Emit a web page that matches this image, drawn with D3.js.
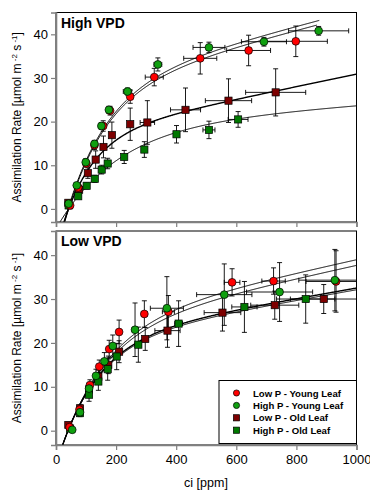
<!DOCTYPE html>
<html>
<head>
<meta charset="utf-8">
<script src="https://cdn.jsdelivr.net/npm/d3@7"></script>
<style>
  body { margin: 0; background: #fff; }
  svg { display: block; font-family: "Liberation Sans", Arial, sans-serif; }
</style>
</head>
<body>
<svg id="chart" width="370" height="492"></svg>
<script>
// rows: [ci, assimilation, ci error, assimilation error]
const highLowPYoung = [
  [47, 0.8, 3, 0.5], [74, 4.9, 4, 0.8], [101, 10.4, 4, 0.8], [128, 14.6, 5, 1.0],
  [157, 19.0, 6, 1.2], [180, 22.5, 6, 1.0], [247, 25.7, 8, 1.5], [327, 30.2, 30, 2.0],
  [480, 34.5, 55, 3.6], [641, 36.3, 73, 3.5], [798, 38.4, 105, 3.5]
];
const highHighPYoung = [
  [42, 1.2, 2, 0.5], [69, 5.4, 3, 0.6], [99, 10.7, 4, 0.8], [128, 14.9, 4, 0.8],
  [151, 19.0, 5, 0.8], [176, 22.7, 5, 0.8], [238, 26.9, 14, 0.8], [339, 33.1, 13, 1.5],
  [509, 37.0, 53, 1.2], [692, 38.3, 75, 1.0], [874, 40.8, 100, 1.0]
];
const highLowPOld = [
  [41, 1.4, 2, 0.6], [77, 4.4, 3, 1.0], [106, 8.2, 4, 1.2], [132, 11.3, 5, 2.0],
  [158, 14.2, 6, 2.5], [186, 16.9, 6, 3.0], [247, 19.4, 8, 3.7], [304, 19.8, 24, 5.0],
  [431, 22.7, 50, 5.0], [574, 24.8, 77, 5.0], [731, 26.7, 100, 5.4]
];
const highHighPOld = [
  [42, 0.8, 2, 0.5], [74, 2.9, 3, 0.6], [102, 5.3, 4, 0.7], [129, 6.9, 4, 0.8],
  [152, 9.0, 5, 1.0], [172, 10.4, 5, 1.2], [227, 11.9, 6, 1.5], [294, 13.6, 8, 1.8],
  [401, 17.1, 10, 2.0], [509, 18.1, 20, 2.0], [606, 20.5, 33, 1.8]
];

const lowLowPYoung = [
  [45, 0.8, 2, 0.5], [78, 4.8, 3, 0.8], [113, 10.4, 4, 1.2], [144, 14.6, 5, 1.5],
  [177, 18.6, 6, 2.0], [210, 22.5, 8, 2.7], [294, 26.6, 10, 3.0], [374, 27.1, 20, 3.7],
  [586, 33.8, 26, 3.1], [724, 34.1, 39, 3.0], [932, 34.0, 100, 7.0]
];
const lowHighPYoung = [
  [54, 0.2, 3, 0.5], [80, 4.2, 3, 0.8], [110, 9.6, 4, 1.2], [133, 12.5, 5, 1.5],
  [161, 15.8, 6, 2.0], [189, 19.3, 7, 2.5], [263, 23.0, 10, 6.1], [369, 27.9, 55, 7.2],
  [560, 31.0, 92, 7.0], [744, 31.6, 110, 6.7], [928, 34.3, 120, 7.0]
];
const lowLowPOld = [
  [41, 1.3, 2, 0.6], [80, 5.1, 3, 0.8], [110, 9.4, 4, 1.2], [141, 12.3, 5, 1.5],
  [174, 15.0, 6, 2.0], [210, 18.0, 7, 2.5], [297, 20.9, 10, 2.6], [371, 22.8, 42, 3.8],
  [554, 26.9, 61, 4.2], [728, 28.6, 80, 3.2], [891, 30.0, 111, 3.3]
];
const lowHighPOld = [
  [47, 0.5, 2, 0.5], [80, 4.0, 3, 0.8], [110, 8.2, 4, 1.5], [141, 11.2, 5, 2.0],
  [172, 14.0, 6, 2.5], [202, 16.9, 7, 3.0], [274, 19.6, 10, 4.0], [408, 24.4, 13, 5.2],
  [627, 28.2, 42, 5.8], [831, 30.0, 97, 5.5]
];

// fitted curves: A = G*(1-exp(-k*(ci-c0))) + s*(ci-c0), drawn up to ciMax
// [G, k, s, c0, ciMax]
const fitHighLowPYoung = [27.3, 0.0075, 0.018, 42, 869];
const fitHighHighPYoung = [28.2, 0.0073, 0.018, 40, 877];
const fitHighLowPOld = [17.1, 0.0098, 0.0144, 42, 1000];
const fitHighHighPOld = [19.0, 0.0049, 0.005, 42, 1000];
const fitLowLowPYoung = [24.6, 0.00646, 0.015, 40, 1000];
const fitLowHighPYoung = [23.3, 0.0067, 0.015, 40, 1000];
const fitLowLowPOld = [21.0, 0.0076, 0.012, 40, 1000];
const fitLowHighPOld = [20.6, 0.0076, 0.012, 40, 1000];

const seriesNames = ["Low P - Young Leaf", "High P - Young Leaf", "Low P - Old Leaf", "High P - Old Leaf"];
const xTicks = [0, 200, 400, 600, 800, 1000];
const yTicks = [0, 10, 20, 30, 40];

const styles = [
  { shape: "circle", fill: "#ff0000" },
  { shape: "circle", fill: "#10a010" },
  { shape: "square", fill: "#7d0000" },
  { shape: "square", fill: "#007800" }
];

const svg = d3.select("#chart");

const x = d3.scaleLinear().domain([0, 1000]).range([56, 356.5]);

const panels = [
  {
    label: "High VPD",
    y: d3.scaleLinear().domain([-3, 45]).range([222, 12.5]),
    data: [highLowPYoung, highHighPYoung, highLowPOld, highHighPOld],
    fits: [fitHighLowPYoung, fitHighHighPYoung, fitHighLowPOld, fitHighHighPOld],
    xLabels: false
  },
  {
    label: "Low VPD",
    y: d3.scaleLinear().domain([-3.26, 45.5]).range([445, 231]),
    data: [lowLowPYoung, lowHighPYoung, lowLowPOld, lowHighPOld],
    fits: [fitLowLowPYoung, fitLowHighPYoung, fitLowLowPOld, fitLowHighPOld],
    xLabels: true
  }
];

const drawOrder = [2, 3, 0, 1];

function marker(sel, shape, fill, size) {
  if (shape === "circle") {
    sel.append("circle").attr("r", size / 2);
  } else {
    sel.append("rect").attr("x", -size / 2).attr("y", -size / 2)
      .attr("width", size).attr("height", size);
  }
  sel.select(":last-child").attr("fill", fill).attr("stroke", "#000").attr("stroke-width", 0.7);
}

panels.forEach((p, pi) => {
  const y = p.y;
  const [x0, x1] = x.range();
  const [yb, yt] = y.range();
  const g = svg.append("g");

  const clipId = "clip" + pi;
  svg.append("clipPath").attr("id", clipId)
    .append("rect").attr("x", x0).attr("y", yt).attr("width", x1 - x0).attr("height", yb - yt);

  // frame
  g.append("rect")
    .attr("x", x0).attr("y", yt).attr("width", x1 - x0).attr("height", yb - yt)
    .attr("fill", "none").attr("stroke", "#000").attr("stroke-width", 1);

  const plot = g.append("g").attr("clip-path", `url(#${clipId})`);

  // fit lines
  p.fits.forEach((f, i) => {
    const [G, k, s, c0, ciMax] = f;
    const pts = d3.range(0, ciMax + 0.1, 2).map(ci => [ci, G * (1 - Math.exp(-k * (ci - c0))) + s * (ci - c0)]);
    plot.append("path")
      .datum(pts)
      .attr("fill", "none")
      .attr("stroke", "#000")
      .attr("stroke-width", i === 2 ? 1.4 : 1)
      .attr("d", d3.line().x(d => x(d[0])).y(d => y(d[1])));
  });

  // error bars
  const cap = 2.5;
  drawOrder.forEach(si => {
    const eb = plot.append("g").attr("stroke", "#000").attr("stroke-width", 0.9);
    p.data[si].forEach(d => {
      const [ci, a, ce, ae] = d;
      eb.append("line").attr("x1", x(ci - ce)).attr("x2", x(ci + ce)).attr("y1", y(a)).attr("y2", y(a));
      eb.append("line").attr("x1", x(ci - ce)).attr("x2", x(ci - ce)).attr("y1", y(a) - cap).attr("y2", y(a) + cap);
      eb.append("line").attr("x1", x(ci + ce)).attr("x2", x(ci + ce)).attr("y1", y(a) - cap).attr("y2", y(a) + cap);
      eb.append("line").attr("x1", x(ci)).attr("x2", x(ci)).attr("y1", y(a - ae)).attr("y2", y(a + ae));
      eb.append("line").attr("x1", x(ci) - cap).attr("x2", x(ci) + cap).attr("y1", y(a - ae)).attr("y2", y(a - ae));
      eb.append("line").attr("x1", x(ci) - cap).attr("x2", x(ci) + cap).attr("y1", y(a + ae)).attr("y2", y(a + ae));
    });
  });

  // markers
  drawOrder.forEach(si => {
    const st = styles[si];
    p.data[si].forEach(d => {
      const m = plot.append("g").attr("transform", `translate(${x(d[0])},${y(d[1])})`);
      marker(m, st.shape, st.fill, st.shape === "circle" ? 7.8 : 7.2);
    });
  });

  // axes
  const yAxis = d3.axisLeft(y).tickValues(yTicks).tickSize(5).tickPadding(3).tickFormat(d3.format("d"));
  const ya = g.append("g").attr("transform", `translate(${x0},0)`).call(yAxis);
  const xAxis = d3.axisBottom(x).tickValues(xTicks).tickSize(5).tickPadding(5)
    .tickFormat(p.xLabels ? d3.format("d") : "");
  const xa = g.append("g").attr("transform", `translate(0,${yb})`).call(xAxis);
  [ya, xa].forEach(a => {
    a.select(".domain").attr("stroke", "#808080").attr("stroke-width", 1.6);
    a.selectAll(".tick line").attr("stroke", "#808080").attr("stroke-width", 1.2);
    a.selectAll("text").attr("font-size", 13).attr("fill", "#000")
      .attr("font-family", "Liberation Sans, Arial, sans-serif");
  });

  // panel label
  g.append("text")
    .attr("x", x0 + 5).attr("y", yt + 15)
    .attr("font-size", 14).attr("font-weight", "bold")
    .text(p.label);

  // y title
  const yt2 = g.append("text")
    .attr("transform", `translate(21,${(yb + yt) / 2}) rotate(-90)`)
    .attr("text-anchor", "middle")
    .attr("font-size", 12);
  yt2.append("tspan").text("Assimilation Rate [µmol m");
  yt2.append("tspan").attr("dy", -4).attr("font-size", 8).text(" -2");
  yt2.append("tspan").attr("dy", 4).text(" s");
  yt2.append("tspan").attr("dy", -4).attr("font-size", 8).text(" -1");
  yt2.append("tspan").attr("dy", 4).text("]");
});

// x title
svg.append("text")
  .attr("x", 206).attr("y", 487)
  .attr("text-anchor", "middle")
  .attr("font-size", 12.5)
  .text("ci [ppm]");

// legend
const lg = svg.append("g");
lg.append("rect")
  .attr("x", 219).attr("y", 380.5).attr("width", 137.5).attr("height", 63)
  .attr("fill", "#fff").attr("stroke", "#000").attr("stroke-width", 1);
seriesNames.forEach((name, i) => {
  const yy = 393 + i * 12.4;
  const m = lg.append("g").attr("transform", `translate(236.5,${yy})`);
  marker(m, styles[i].shape, styles[i].fill, 6.2);
  lg.append("text")
    .attr("x", 253).attr("y", yy + 3.5)
    .attr("font-size", 9.6).attr("font-weight", "bold")
    .text(name);
});
</script>
</body>
</html>
